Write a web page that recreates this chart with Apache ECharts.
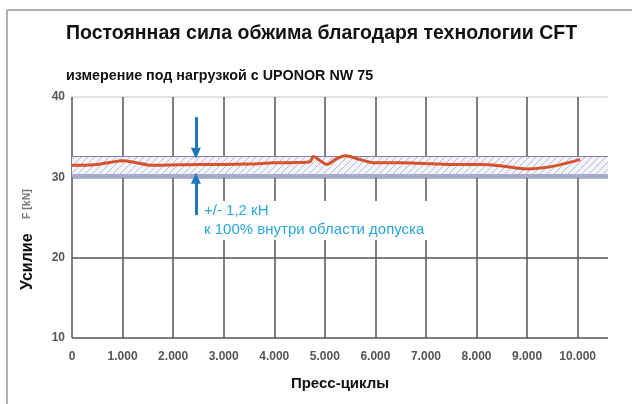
<!DOCTYPE html>
<html>
<head>
<meta charset="utf-8">
<script src="https://cdn.jsdelivr.net/npm/echarts@6/dist/echarts.min.js"></script>
<style>
    html, body { margin: 0; padding: 0; background: #fff; }
    #chart { width: 632px; height: 404px; }
</style>
</head>
<body>
<div id="chart"></div>
<script>
    // Пресс-циклы и усилие (кН)
    var cycles = [0, 250, 500, 750, 1000, 1250, 1500, 1750, 2000, 2500, 3000, 3500, 4000, 4500, 4700, 4780, 4900, 5050, 5200, 5400, 5700, 6000, 6500, 7100, 7500, 8100, 8500, 9000, 9450, 9800, 10050];
    var force  = [31.5, 31.5, 31.6, 31.85, 32.05, 31.85, 31.55, 31.5, 31.55, 31.6, 31.6, 31.65, 31.8, 31.85, 31.9, 32.6, 32.1, 31.6, 32.2, 32.7, 32.2, 31.8, 31.8, 31.7, 31.6, 31.6, 31.4, 31.05, 31.3, 31.8, 32.2];

    // поле допуска +/- 1,2 кН
    var tolLow = 30.25;
    var tolHigh = 32.65;
    var arrowX = 2450;

    var yTicks = [10, 20, 30, 40];
    var xMax = 10600;

    // штриховка поля допуска
    var hatch = document.createElement('canvas');
    hatch.width = 7; hatch.height = 7;
    var hc = hatch.getContext('2d');
    hc.fillStyle = '#f3f3f8';
    hc.fillRect(0, 0, 7, 7);
    hc.strokeStyle = '#b4b7d6';
    hc.lineWidth = 1;
    hc.beginPath();
    hc.moveTo(0, 7); hc.lineTo(7, 0);
    hc.moveTo(-1, 1); hc.lineTo(1, -1);
    hc.moveTo(6, 8); hc.lineTo(8, 6);
    hc.stroke();

    var chart = echarts.init(document.getElementById('chart'));

    var options = {
        animation: false,
        backgroundColor: '#fff',
        title: [
            {
                text: 'Постоянная сила обжима благодаря технологии CFT',
                left: 66, top: 24, padding: 0,
                textStyle: { fontFamily: 'Liberation Sans', fontSize: 19.5, fontWeight: 'bold', color: '#111' }
            },
            {
                text: 'измерение под нагрузкой с UPONOR NW 75',
                left: 66, top: 69, padding: 0,
                textStyle: { fontFamily: 'Liberation Sans', fontSize: 14.3, fontWeight: 'bold', color: '#111' }
            }
        ],
        grid: { left: 72, right: 24, top: 97, bottom: 66 },
        xAxis: {
            type: 'value',
            min: 0,
            max: xMax,
            interval: 1000,
            name: 'Пресс-циклы',
            nameLocation: 'middle',
            nameGap: 38,
            nameTextStyle: { fontFamily: 'Liberation Sans', fontSize: 15, fontWeight: 'bold', color: '#111' },
            axisLine: { show: false },
            axisTick: { show: false },
            axisLabel: {
                showMaxLabel: false,
                margin: 13,
                fontFamily: 'Liberation Sans',
                fontSize: 12,
                fontWeight: 'bold',
                color: '#555'
            ,
                formatter: function (v) {
                    if (v === 0) return '0';
                    return (v / 1000) + '.000';
                }
            },
            splitLine: {
                show: true,
                showMaxLine: false,
                lineStyle: { color: '#555', width: 1.5 }
            }
        },
        yAxis: {
            type: 'value',
            min: yTicks[0],
            max: yTicks[yTicks.length - 1],
            interval: 10,
            axisLine: { show: false },
            axisTick: { show: false },
            axisLabel: {
                margin: 7,
                fontFamily: 'Liberation Sans',
                fontSize: 12,
                fontWeight: 'bold',
                color: '#555'
            },
            splitLine: {
                show: true,
                lineStyle: { color: ['#555', '#555', '#9a9cb8', '#d8d8de'], width: 1.5 }
            }
        },
        series: [
            {
                type: 'line',
                data: cycles.map(function (c, i) { return [c, force[i]]; }),
                smooth: 0.35,
                symbol: 'none',
                z: 5,
                lineStyle: { color: '#d4532d', width: 3 },
                markArea: {
                    silent: true,
                    itemStyle: { color: { image: hatch, repeat: 'repeat' } },
                    data: [[{ xAxis: 0, yAxis: tolLow }, { xAxis: xMax, yAxis: tolHigh }]]
                },
                markLine: {
                    silent: true,
                    symbol: ['none', 'none'],
                    label: { show: false },
                    data: [
                        { yAxis: tolHigh, lineStyle: { color: '#7d80c2', width: 1.2, type: 'solid' } },
                        { yAxis: tolLow, lineStyle: { color: '#a6a9c9', width: 4, type: 'solid' } },
                        [
                            { coord: [arrowX, 37.5], symbol: 'none' },
                            { coord: [arrowX, 33.0], symbol: 'triangle', symbolSize: [10, 11], symbolRotate: 180, lineStyle: { color: '#1f77b8', width: 3, type: 'solid' } }
                        ],
                        [
                            { coord: [arrowX, 25.3], symbol: 'none' },
                            { coord: [arrowX, 29.9], symbol: 'triangle', symbolSize: [10, 11], lineStyle: { color: '#1f77b8', width: 3, type: 'solid' } }
                        ]
                    ]
                }
            }
        ],
        graphic: [
            { type: 'line', shape: { x1: 7, y1: 10, x2: 632, y2: 10 }, style: { stroke: '#999', lineWidth: 1.5 } },
            { type: 'line', shape: { x1: 7, y1: 10, x2: 7, y2: 404 }, style: { stroke: '#999', lineWidth: 1.5 } },
            {
                type: 'text', x: 202, y: 201, z: 10,
                style: {
                    text: '+/- 1,2 кН\nк 100% внутри области допуска',
                    fontFamily: 'Liberation Sans', fontSize: 15, lineHeight: 19,
                    fill: '#2aa6e0', backgroundColor: '#fff', padding: [0, 3, 1, 2]
                }
            },
            {
                type: 'text', x: 20, y: 290, rotation: Math.PI / 2, z: 10,
                style: { text: 'Усилие', fontFamily: 'Liberation Sans', fontSize: 16, fontWeight: 'bold', fill: '#111' }
            },
            {
                type: 'text', x: 22, y: 219, rotation: Math.PI / 2, z: 10,
                style: { text: 'F [kN]', fontFamily: 'Liberation Sans', fontSize: 10.5, fontWeight: 'bold', fill: '#777' }
            }
        ]
    };

    chart.setOption(options);
</script>
</body>
</html>
